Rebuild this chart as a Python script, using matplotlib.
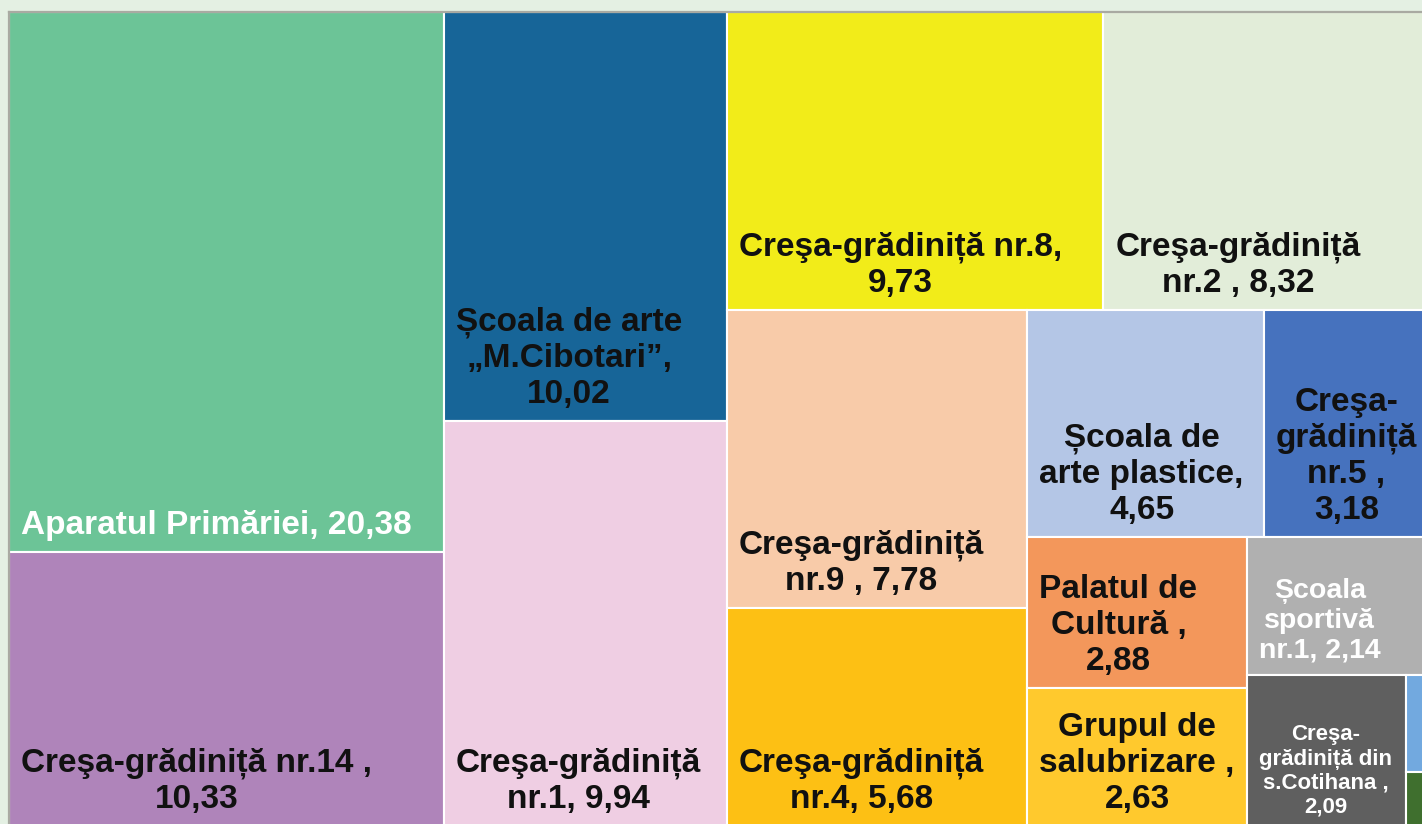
import matplotlib
matplotlib.use("Agg")
import matplotlib.pyplot as plt
from matplotlib.patches import Rectangle

# date (ponderi, %)
labels = [
    "Aparatul Primăriei, {v}",
    "Creşa-grădiniță nr.14 ,\n{v}",
    "Școala de arte\n„M.Cibotari”,\n{v}",
    "Creşa-grădiniță\nnr.1, {v}",
    "Creşa-grădiniță nr.8,\n{v}",
    "Creşa-grădiniță\nnr.2 , {v}",
    "Creşa-grădiniță\nnr.9 , {v}",
    "Creşa-grădiniță\nnr.4, {v}",
    "Școala de\narte plastice,\n{v}",
    "Creşa-\ngrădiniță\nnr.5 ,\n{v}",
    "Palatul de\nCultură ,\n{v}",
    "Grupul de\nsalubrizare ,\n{v}",
    "Școala\nsportivă\nnr.1, {v}",
    "Creşa-\ngrădiniță din\ns.Cotihana ,\n{v}",
    "",
    "",
]
values = [20.38, 10.33, 10.02, 9.94, 9.73, 8.32, 7.78, 5.68,
          4.65, 3.18, 2.88, 2.63, 2.14, 2.09, 0.16, 0.09]

colors = ['#6CC497', '#AF84BA', '#176598', '#EFCEE3', '#F2EC19', '#E2EDD9',
          '#F8CBA9', '#FDC014', '#B4C6E6', '#4672BE', '#F3975B', '#FFC92D',
          '#B0B0B0', '#5F5F5F', '#72A9DF', '#3F6F2E']
txt_colors = ['white'] + ['#111111'] * 11 + ['white', 'white', 'white', 'white']
font_sizes = [24] * 12 + [20.5, 16, 10, 10]


def worst(row, side):
    s = sum(row)
    return max(max(side * side * r / (s * s), s * s / (side * side * r)) for r in row)


def squarify(vals, x, y, w, h):
    scale = w * h / sum(vals)
    areas = [v * scale for v in vals]
    rects = []
    i = 0
    while i < len(areas):
        side = min(w, h)
        row = [areas[i]]
        j = i + 1
        while j < len(areas) and worst(row + [areas[j]], side) <= worst(row, side):
            row.append(areas[j])
            j += 1
        s = sum(row)
        if w >= h:
            cw = s / h
            yy = y
            for a in row:
                rects.append((x, yy, cw, a / cw))
                yy += a / cw
            x += cw
            w -= cw
        else:
            rh = s / w
            xx = x
            for a in row:
                rects.append((xx, y, a / rh, rh))
                xx += a / rh
            y += rh
            h -= rh
        i = j
    return rects


W, H = 1416.5, 814.0
fig = plt.figure(figsize=(14.22, 8.24), dpi=100, facecolor='#E4F0E3')
ax = fig.add_axes([9 / 1422, (824 - 12 - H) / 824, W / 1422, H / 824])
ax.set_xlim(0, W)
ax.set_ylim(H, 0)
ax.set_xticks([])
ax.set_yticks([])
for side in ['right', 'bottom']:
    ax.spines[side].set_visible(False)
for side in ['top', 'left']:
    ax.spines[side].set_color('#A9AAA2')
    ax.spines[side].set_linewidth(1.6)

rects = squarify(values, 0, 0, W, H)
for (x, y, w, h), lab, v, c, tc, fs in zip(rects, labels, values, colors, txt_colors, font_sizes):
    ax.add_patch(Rectangle((x, y), w, h, facecolor=c, edgecolor='white', linewidth=1.5))
    if not lab:
        continue
    txt = lab.format(v=f"{v:.2f}".replace('.', ','))
    off = 11 if fs > 20 else 8
    ax.annotate(txt, xy=(x, y + h), xytext=(12 * 0.72, off * 0.72), textcoords='offset points',
                ha='left', va='bottom', multialignment='center', color=tc,
                fontsize=fs, fontweight='bold', family=['Liberation Sans', 'DejaVu Sans'],
                linespacing=1.2)

fig.savefig('out.png', dpi=100, facecolor=fig.get_facecolor())
